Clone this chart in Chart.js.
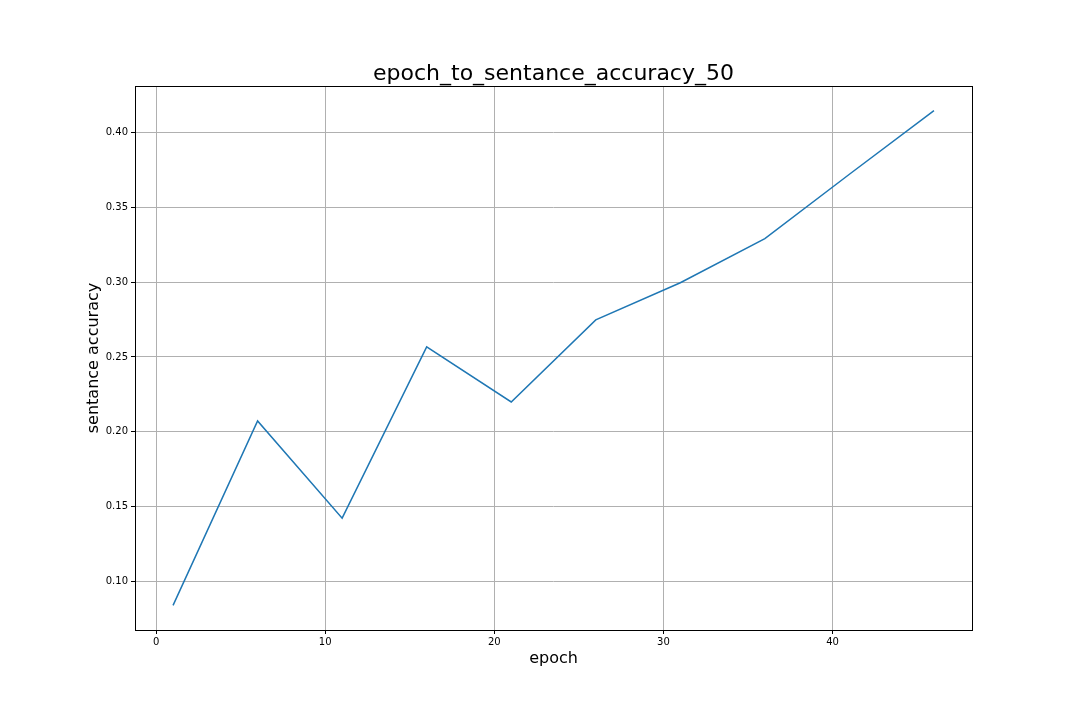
<!DOCTYPE html>
<html>
<head>
<meta charset="utf-8">
<script src="https://cdn.jsdelivr.net/npm/chart.js@4"></script>
<style>
  html, body { margin: 0; padding: 0; background: #fff; }
  #wrap { width: 1080px; height: 720px; }
</style>
</head>
<body>
<div id="wrap"><canvas id="chart" width="1080" height="720"></canvas></div>
<script>
// ── Data ──────────────────────────────────────────────────────────────────
const epochs   = [1, 6, 11, 16, 21, 26, 31, 36, 41, 46];
const accuracy = [0.0839, 0.2072, 0.1422, 0.2567, 0.2199, 0.2748, 0.2996, 0.3291, 0.3722, 0.4147];
const xTicks   = [0, 10, 20, 30, 40];
const yTicks   = [0.10, 0.15, 0.20, 0.25, 0.30, 0.35, 0.40];

const titleText = "epoch_to_sentance_accuracy_50";
const xLabel    = "epoch";
const yLabel    = "sentance accuracy";
const FONT      = "'DejaVu Sans', sans-serif";

// ── Frame + text plugin (matplotlib look) ─────────────────────────────────
const framePlugin = {
  id: "frame",
  afterDraw(chart) {
    const { ctx, chartArea: a } = chart;
    ctx.save();
    ctx.strokeStyle = "#000";
    ctx.lineWidth = 1;
    ctx.strokeRect(a.left + 0.5, a.top + 0.5, a.right - a.left, a.bottom - a.top);
    ctx.fillStyle = "#000";
    ctx.textAlign = "center";
    ctx.textBaseline = "alphabetic";
    ctx.font = `22px ${FONT}`;
    ctx.fillText(titleText, (a.left + a.right) / 2, a.top - 6);
    ctx.font = `16px ${FONT}`;
    ctx.fillText(xLabel, (a.left + a.right) / 2, a.bottom + 33);
    ctx.translate(a.left - 37, (a.top + a.bottom) / 2);
    ctx.rotate(-Math.PI / 2);
    ctx.fillText(yLabel, 0, 0);
    ctx.restore();
  },
};

new Chart(document.getElementById("chart"), {
  type: "line",
  data: {
    datasets: [{
      data: epochs.map((e, i) => ({ x: e, y: accuracy[i] })),
      borderColor: "#1f77b4",
      borderWidth: 1.5,
      pointRadius: 0,
      tension: 0,
      fill: false,
    }],
  },
  options: {
    responsive: false,
    animation: false,
    layout: { padding: { top: 86, right: 108, left: 0, bottom: 0 } },
    plugins: { legend: { display: false }, tooltip: { enabled: false } },
    scales: {
      x: {
        type: "linear",
        min: -1.25,
        max: 48.25,
        afterBuildTicks: s => { s.ticks = xTicks.map(v => ({ value: v })); },
        afterFit: s => { s.height = 90; },
        grid: { color: "#b0b0b0", tickColor: "#000", tickLength: 4 },
        border: { display: false },
        ticks: { color: "#000", font: { family: FONT, size: 10 }, maxRotation: 0, padding: 2 },
      },
      y: {
        type: "linear",
        min: 0.0674,
        max: 0.4312,
        afterBuildTicks: s => { s.ticks = yTicks.map(v => ({ value: v })); },
        afterFit: s => { s.width = 135; },
        grid: { color: "#b0b0b0", tickColor: "#000", tickLength: 4 },
        border: { display: false },
        ticks: {
          color: "#000",
          font: { family: FONT, size: 10 },
          padding: 3,
          callback: v => v.toFixed(2),
        },
      },
    },
  },
  plugins: [framePlugin],
});
</script>
</body>
</html>
